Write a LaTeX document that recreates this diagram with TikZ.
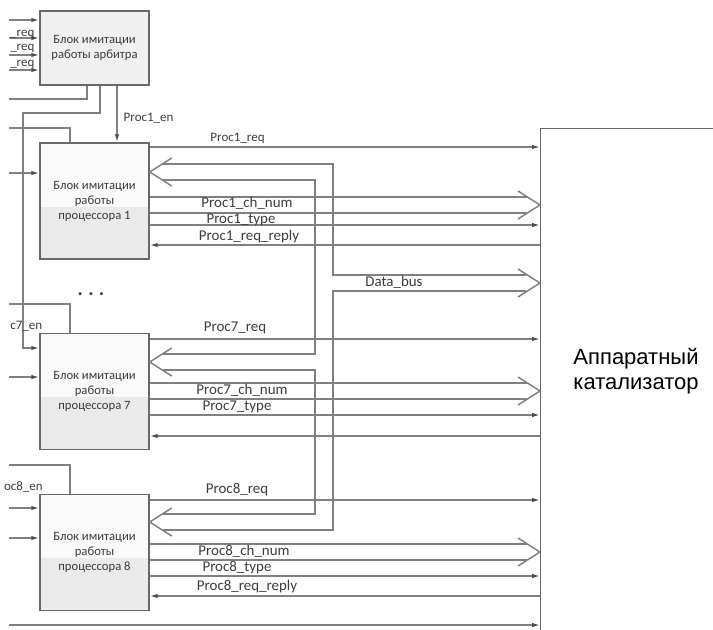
\documentclass[tikz,border=0pt]{standalone}
\usepackage{fontspec}
\setmainfont{Carlito}
\newfontfamily\catfont{Liberation Sans}
\usetikzlibrary{arrows.meta,calc}
\definecolor{wirec}{RGB}{128,128,128}
\definecolor{edgec}{RGB}{105,105,105}
\definecolor{boxtop}{RGB}{250,250,250}
\definecolor{boxlow}{RGB}{234,234,234}
\definecolor{arbfill}{RGB}{240,240,240}
\definecolor{txtc}{RGB}{60,60,60}
\tikzset{
  blk/.style    ={draw=edgec, line width=1.1pt, inner sep=0pt, align=center,
                  minimum width=81.75pt, text=txtc,
                  font=\fontsize{9.5}{11.25}\selectfont},
  arbblk/.style ={blk, fill=arbfill, minimum height=55.5pt},
  procblk/.style={blk, fill=boxtop, minimum height=87pt,
                  path picture={\fill[boxlow]
                    (path picture bounding box.south west) rectangle
                    ($(path picture bounding box.north east)!0.55!(path picture bounding box.south east)$);}},
  catblk/.style ={draw=edgec, line width=1pt, minimum width=150pt,
                  minimum height=400pt, inner sep=0pt},
  cattxt/.style ={align=center, inner sep=0pt,
                  font=\catfont\fontsize{16.5}{18.75}\selectfont},
  sig/.style    ={draw=wirec, line width=1.1pt},
  sigar/.style  ={sig, -{Latex[length=6pt,width=3.4pt,color=black!70]}},
  lbl/.style    ={font=\fontsize{11.2}{13}\selectfont, text=txtc, inner sep=0pt},
  slbl/.style   ={font=\fontsize{9.75}{11}\selectfont, text=txtc, inner sep=0pt},
}
\newcommand{\chevL}[1]{\draw[sig] #1 ++(22,-14) -- #1 -- ++(22,14);}
\newcommand{\chevR}[1]{\draw[sig] #1 ++(-22,-14) -- #1 -- ++(-22,14);}

\begin{document}
\begin{tikzpicture}[x=0.75pt, y=-0.75pt]
  \useasboundingbox (0,0) rectangle (713,629);
  \clip (0,0) rectangle (713,629);
  % blocks
  \node[arbblk] (arb) at (94.5,48) {Блок имитации\\работы арбитра};
  \node[procblk] (p1) at (94.5,201) {Блок имитации\\работы\\процессора 1};
  \node[procblk] (p7) at (94.5,391.5) {Блок имитации\\работы\\процессора 7};
  \node[procblk] (p8) at (94.5,552.5) {Блок имитации\\работы\\процессора 8};
  \node[catblk, anchor=north west] (cat) at (540,128) {};
  \node[cattxt] (catlbl) at (636,371) {Аппаратный\\катализатор};
  \node[lbl, font=\fontsize{15}{15}\bfseries] (dots) at (91,294) {.\hspace{4pt}.\hspace{4pt}.};

  % free ends on the left
  \coordinate (in0) at (9,20);
  \coordinate (in1) at (9,38);
  \coordinate (in2) at (9,55);
  \coordinate (in3) at (9,70);
  \coordinate (out1) at (9,99);
  \coordinate (en7) at (23,113);
  \coordinate (rst1) at (9,128);
  \coordinate (clk1) at (9,173);
  \coordinate (rst7) at (9,304);
  \coordinate (clk7) at (9,377);
  \coordinate (rst8) at (9,465);
  \coordinate (en8) at (9,508);
  \coordinate (clk8) at (9,538);
  \coordinate (tail) at (9,625);

  % arbiter
  \draw[sigar] (in0) -- (arb.west |- in0);
  \draw[sigar] (in1) -- (arb.west |- in1);
  \draw[sigar] (in2) -- (arb.west |- in2);
  \draw[sigar] (in3) -- (arb.west |- in3);
  \node[slbl, anchor=west] (rq1) at (10,34) {\_req};
  \node[slbl, anchor=west] (rq2) at (10,48) {\_req};
  \node[slbl, anchor=west] (rq3) at (10,64) {\_req};
  \draw[sig] (arb.south -| 87,0) |- (out1);
  \draw[sigar] (arb.south -| 100,0) |- (en7) |- (p7.west |- 0,348);
  \draw[sigar] (arb.south -| 117,0) -- (p1.north -| 117,0)
    node[slbl, pos=0.57, right=4.5pt] (en1lbl) {Proc1\_en};

  % left inputs of the processors
  \draw[sig] (rst1) -| (p1.north -| 70,0);
  \draw[sigar] (clk1) -- (p1.west |- clk1);
  \draw[sig] (rst7) -| (p7.north -| 70,0);
  \draw[sigar] (clk7) -- (p7.west |- clk7);
  \node[slbl, anchor=west] (en7lbl) at (10,326) {c7\_en};
  \draw[sig] (rst8) -| (p8.north -| 70,0);
  \draw[sigar] (en8) -- (p8.west |- en8);
  \draw[sigar] (clk8) -- (p8.west |- clk8);
  \node[slbl, anchor=east] (en8lbl) at (43,487) {oc8\_en};
  \draw[sigar] (tail) -- (cat.west |- tail);

  % processor 1
  \draw[sigar] (p1.east |- 0,147) -- (cat.west |- 0,147)
    node[slbl, pos=0.225, above=2pt] (rq1lbl) {Proc1\_req};
  \chevL{(p1.east |- 0,172)}
  \draw[sig] (p1.east |- 0,197) -- ($(cat.west |- 0,197)+(-13,0)$);
  \draw[sig] (p1.east |- 0,213) -- ($(cat.west |- 0,213)+(-13,0)$);
  \chevR{(cat.west |- 0,205)}
  \draw[sigar] (p1.east |- 0,225) -- (cat.west |- 0,225);
  \draw[sigar] (cat.west |- 0,245) -- (p1.east |- 0,245);
  \node[lbl] (cn1lbl) at (247,203) {Proc1\_ch\_num};
  \node[lbl] (ty1lbl) at (241,219.5) {Proc1\_type};
  \node[lbl] (rp1lbl) at (249,236.5) {Proc1\_req\_reply};

  % processor 7
  \draw[sigar] (p7.east |- 0,339) -- (cat.west |- 0,339);
  \chevL{(p7.east |- 0,362)}
  \draw[sig] (p7.east |- 0,383) -- ($(cat.west |- 0,383)+(-13,0)$);
  \draw[sig] (p7.east |- 0,399) -- ($(cat.west |- 0,399)+(-13,0)$);
  \chevR{(cat.west |- 0,391)}
  \draw[sigar] (p7.east |- 0,415) -- (cat.west |- 0,415);
  \draw[sigar] (cat.west |- 0,436) -- (p7.east |- 0,436);
  \node[lbl] (rq7lbl) at (235,328) {Proc7\_req};
  \node[lbl] (cn7lbl) at (242,390) {Proc7\_ch\_num};
  \node[lbl] (ty7lbl) at (237,406.5) {Proc7\_type};

  % processor 8
  \draw[sigar] (p8.east |- 0,500) -- (cat.west |- 0,500);
  \chevL{(p8.east |- 0,522)}
  \draw[sig] (p8.east |- 0,544) -- ($(cat.west |- 0,544)+(-13,0)$);
  \draw[sig] (p8.east |- 0,560) -- ($(cat.west |- 0,560)+(-13,0)$);
  \chevR{(cat.west |- 0,552)}
  \draw[sigar] (p8.east |- 0,576) -- (cat.west |- 0,576);
  \draw[sigar] (cat.west |- 0,596) -- (p8.east |- 0,596);
  \node[lbl] (rq8lbl) at (237,490) {Proc8\_req};
  \node[lbl] (cn8lbl) at (244,551) {Proc8\_ch\_num};
  \node[lbl] (ty8lbl) at (237,567.5) {Proc8\_type};
  \node[lbl] (rp8lbl) at (247,587) {Proc8\_req\_reply};

  % data bus
  \draw[sig] (p1.east |- 0,164) ++(13,0) -| (333,275)
    -- ($(cat.west |- 0,275)+(-14,0)$);
  \draw[sig] ($(cat.west |- 0,291)+(-14,0)$) -- (333,291)
    |- ($(p8.east |- 0,530)+(13,0)$);
  \draw[sig] (p1.east |- 0,180) ++(13,0) -| (315,354)
    -- ($(p7.east |- 0,354)+(13,0)$);
  \draw[sig] (p7.east |- 0,370) ++(13,0) -| (315,514)
    -- ($(p8.east |- 0,514)+(13,0)$);
  \chevR{(cat.west |- 0,283)}
  \node[lbl] (dblbl) at (394,282) {Data\_bus};
\end{tikzpicture}
\end{document}
